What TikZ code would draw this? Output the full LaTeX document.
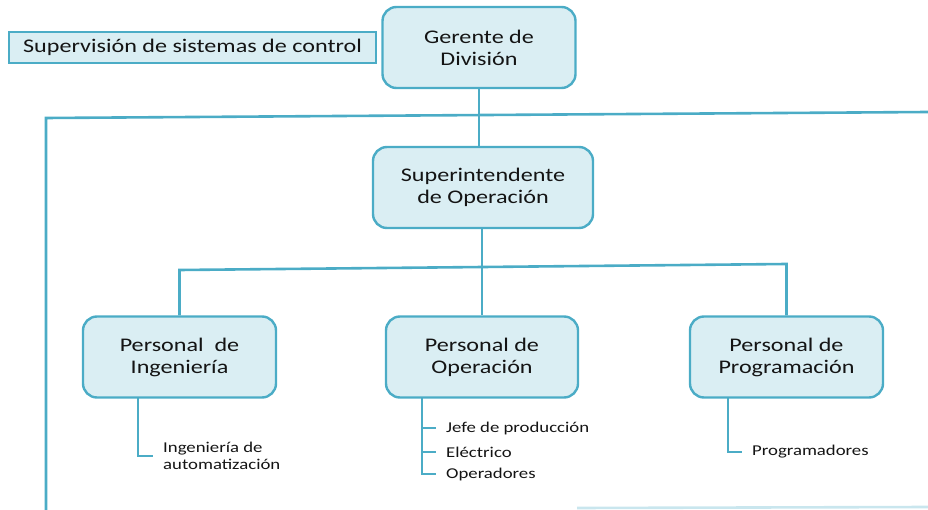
\documentclass[tikz,border=0pt]{standalone}
\usepackage{fontspec}
\setmainfont[FakeStretch=1.25]{Carlito}
\definecolor{lineblue}{HTML}{4BACC6}
\definecolor{boxfill}{HTML}{DAEEF3}
\definecolor{txtgray}{HTML}{141414}
\begin{document}
\begin{tikzpicture}[x=1pt, y=-1pt,
  box/.style={draw=lineblue, line width=2.4pt, fill=boxfill, rounded corners=14pt,
    minimum width=193pt, minimum height=81pt, align=center, text=txtgray,
    font=\fontsize{19.3}{22}\selectfont},
  label/.style={draw=lineblue, line width=2.2pt, fill=boxfill, minimum width=367pt,
    minimum height=31pt, text=txtgray, font=\fontsize{19.3}{22}\selectfont},
  sub/.style={anchor=west, align=left, text=txtgray, inner xsep=10pt, inner ysep=0pt,
    font=\fontsize{15}{17}\selectfont},
  link/.style={draw=lineblue, line width=2.6pt}]
\useasboundingbox (0,0) rectangle (928,510);
\draw[link] (46,510) -- (46,118) -- (928,112);
\draw[lineblue!30, line width=2.6pt] (577,508) -- (928,507);
\node[label] (sup) at (192.5,47.5) {Supervisión de sistemas de control};
\node[box] (ger) at (479,47.5) {Gerente de\\División};
\node[box, minimum width=220pt] (supint) at (483,187.5) {Superintendente\\de Operación};
\node[box] (ing) at (179.5,357) {Personal\ \ de\\Ingeniería};
\node[box, minimum width=192pt] (ope) at (482,357) {Personal de\\Operación};
\node[box] (prog) at (786.5,357) {Personal de\\Programación};
\coordinate (jl) at (179.5,270);
\coordinate (jr) at (786.5,264);
\draw[link] (ger.south) -- (ger.south |- supint.north);
\draw[link] (ope.north |- supint.south) -- (ope.north);
\draw[link] (ing.north) -- (jl) -- (jr) -- (prog.north);
\node[sub] (aut) at (153,456) {Ingeniería de\\automatización};
\node[sub] (jefe) at (436,428) {Jefe de producción};
\node[sub] (elec) at (436,452) {Eléctrico};
\node[sub] (oper) at (436,474) {Operadores};
\node[sub] (progs) at (742,452) {Programadores};
\coordinate (ingb) at (138,398);
\coordinate (opeb) at (422,398);
\coordinate (progb) at (728,398);
\draw[link] (ingb) |- (aut.west);
\draw[link] (opeb) |- (oper.west);
\draw[link] (opeb |- jefe.west) -- (jefe.west);
\draw[link] (opeb |- elec.west) -- (elec.west);
\draw[link] (progb) |- (progs.west);
\end{tikzpicture}
\end{document}
